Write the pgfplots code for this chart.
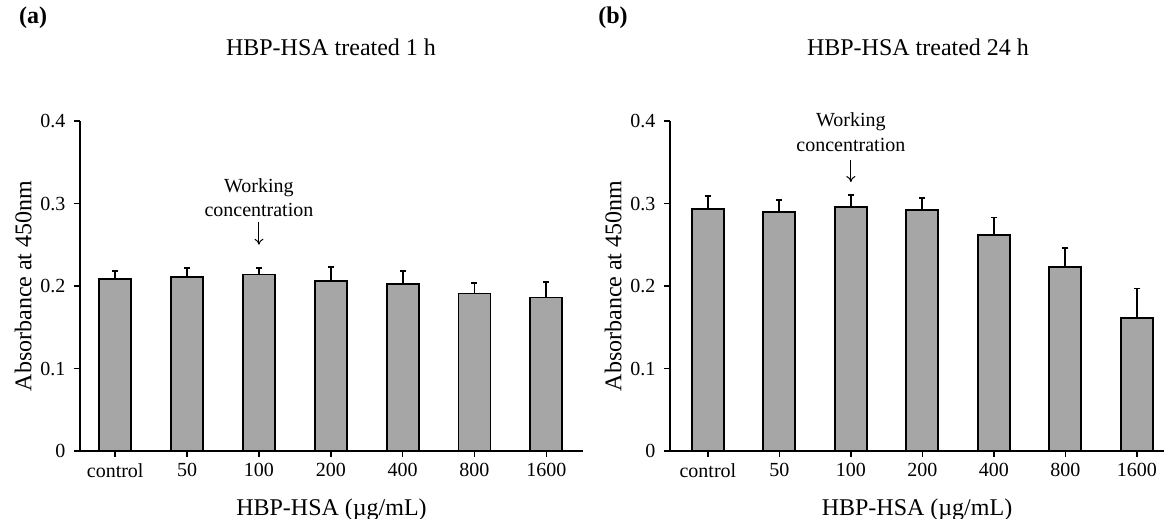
\documentclass[border=0pt]{standalone}
\usepackage{fontspec}
\setmainfont{Liberation Serif}
\usepackage{pgfplots}
\pgfplotsset{compat=1.18}
\usetikzlibrary{arrows.meta}
\definecolor{barfill}{HTML}{A6A6A6}

\pgfplotsset{
  hsa/.style={
    scale only axis,
    height=330pt,
    ymin=0, ymax=0.4,
    ytick={0,0.1,0.2,0.3,0.4},
    xtick={0,...,6},
    xticklabels={control,50,100,200,400,800,1600},
    axis lines=left,
    axis line style={-, line width=1.8pt},
    tick style={black, line width=1.5pt},
    tick align=outside,
    major tick length=6pt,
    ticklabel style={font=\fontsize{20}{24}\selectfont},
    xticklabel style={yshift=-3pt},
    /pgf/number format/assume math mode=true,
    yticklabel style={/pgf/number format/fixed, /pgf/number format/precision=1, xshift=-5pt},
    label style={font=\fontsize{24}{28}\selectfont},
    xlabel={HBP-HSA (µg/mL)},
    xlabel style={yshift=-14pt},
    ylabel={Absorbance at 450nm},
    ylabel style={yshift=2pt},
    clip=false,
  },
  hsabar/.style={
    ybar, bar width=32pt, fill=barfill, draw=black, line width=1.8pt,
    error bars/.cd, y dir=plus, y explicit,
    error bar style={line width=1.8pt, black},
    error mark=-,
    error mark options={rotate=90, line width=1.8pt, mark size=3pt, black},
  },
}
\tikzset{arrowdown/.style={-{To[length=6pt,width=9pt]}, line width=1pt}}

\begin{document}
\begin{tikzpicture}
\useasboundingbox (0,0) rectangle (1164pt,519pt);

% panel (a): 1 h
\begin{axis}[hsa, at={(80pt,68pt)}, anchor=south west,
  width=503pt, xmin=-0.49, xmax=6.51]
\addplot[hsabar] coordinates {
  (0,0.208) +- (0,0.010)
  (1,0.211) +- (0,0.011)
  (2,0.214) +- (0,0.008)
  (3,0.206) +- (0,0.017)
  (4,0.202) +- (0,0.016)
  (5,0.191) +- (0,0.013)
  (6,0.186) +- (0,0.019)
};
\node[font=\fontsize{20}{24}\selectfont] at (axis cs:2,0.319) {Working};
\node[font=\fontsize{20}{24}\selectfont] at (axis cs:2,0.292) {concentration};
\draw[arrowdown] (axis cs:2,0.278) -- (axis cs:2,0.25);
\end{axis}

% panel (b): 24 h
\begin{axis}[hsa, at={(670pt,68pt)}, anchor=south west,
  width=494pt, xmin=-0.53, xmax=6.38]
\addplot[hsabar] coordinates {
  (0,0.293) +- (0,0.016)
  (1,0.290) +- (0,0.014)
  (2,0.296) +- (0,0.014)
  (3,0.292) +- (0,0.015)
  (4,0.262) +- (0,0.021)
  (5,0.223) +- (0,0.023)
  (6,0.161) +- (0,0.036)
};
\node[font=\fontsize{20}{24}\selectfont] at (axis cs:2,0.399) {Working};
\node[font=\fontsize{20}{24}\selectfont] at (axis cs:2,0.371) {concentration};
\draw[arrowdown] (axis cs:2,0.353) -- (axis cs:2,0.326);
\end{axis}

\node[font=\fontsize{24}{28}\selectfont\bfseries] at (33pt,501pt) {(a)};
\node[font=\fontsize{24}{28}\selectfont] at (331pt,472pt) {HBP-HSA treated 1 h};
\node[font=\fontsize{24}{28}\selectfont\bfseries] at (613pt,501pt) {(b)};
\node[font=\fontsize{24}{28}\selectfont] at (918pt,472pt) {HBP-HSA treated 24 h};
\end{tikzpicture}
\end{document}
